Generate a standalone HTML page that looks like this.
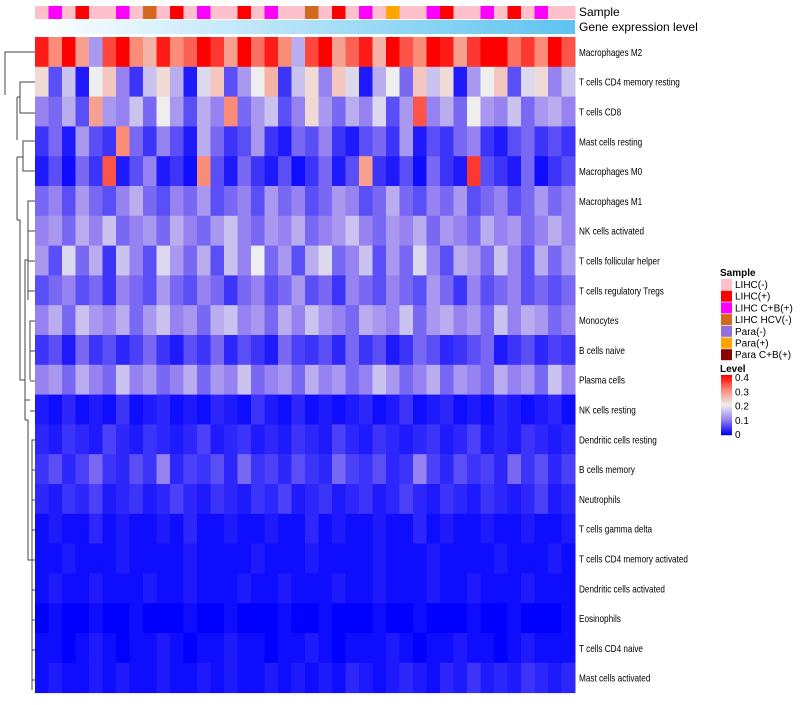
<!DOCTYPE html>
<html><head><meta charset="utf-8"><style>
body{margin:0;background:#fff;font-family:"Liberation Sans",sans-serif}
svg text{font-family:"Liberation Sans",sans-serif}
</style></head><body>
<svg id="c" width="800" height="700"></svg>
<script>
const rowNames=["Macrophages M2","T cells CD4 memory resting","T cells CD8","Mast cells resting","Macrophages M0","Macrophages M1","NK cells activated","T cells follicular helper","T cells regulatory  Tregs","Monocytes","B cells naive","Plasma cells","NK cells resting","Dendritic cells resting","B cells memory","Neutrophils","T cells gamma delta","T cells CD4 memory activated","Dendritic cells activated","Eosinophils","T cells CD4 naive","Mast cells activated"];
// values in hundredths (0..40)
const values=[
[38,30,40,28,12,35,40,30,26,38,30,33,40,36,28,40,32,38,30,14,35,40,28,33,38,26,40,34,30,40,38,28,36,40,40,32,36,30,40,34],
[22,6,16,2,20,24,10,4,16,22,14,2,18,24,6,12,20,26,4,16,22,10,24,18,2,14,20,8,24,16,22,2,12,20,24,6,18,22,10,16],
[10,8,14,6,28,12,10,16,8,20,12,6,14,10,30,8,12,16,6,10,22,12,8,14,10,18,6,12,34,10,14,8,20,12,10,16,8,12,14,10],
[4,8,2,12,6,4,30,8,4,10,6,2,14,8,4,6,12,4,2,8,6,10,4,2,6,8,4,12,2,6,4,8,10,4,2,6,8,4,6,4],
[2,6,1,8,4,34,2,6,10,2,4,1,30,6,2,8,4,2,6,1,4,8,2,6,28,4,2,6,1,8,4,2,36,6,4,2,8,1,4,6],
[8,10,6,12,8,6,10,14,8,6,10,8,12,6,8,10,6,12,8,10,6,8,12,10,6,8,14,8,6,10,8,12,6,8,10,6,8,12,8,10],
[10,12,8,14,10,16,8,10,12,8,14,10,8,12,16,10,8,12,10,14,8,10,12,16,10,8,12,10,14,8,12,10,8,14,10,12,8,10,14,10],
[12,6,18,8,14,4,16,10,6,18,12,8,14,6,16,10,20,8,12,6,14,18,8,10,16,6,12,8,18,10,6,14,12,8,16,10,6,14,8,12],
[6,8,10,6,8,4,10,8,6,12,8,6,10,8,4,8,10,6,8,12,6,8,4,10,8,6,10,8,6,12,8,4,10,6,8,10,6,8,6,8],
[10,14,8,16,12,10,14,8,12,16,10,12,8,14,16,10,12,8,14,10,16,12,10,8,14,12,10,16,8,12,14,10,12,8,16,10,14,12,8,10],
[4,6,2,8,4,6,3,5,8,4,2,6,4,8,3,6,4,2,8,5,4,6,3,8,4,6,2,4,8,6,3,4,6,8,2,4,6,3,5,4],
[10,12,8,14,10,8,16,10,12,8,10,14,8,12,10,16,8,10,12,8,14,10,12,8,10,16,12,8,10,14,8,12,10,8,14,10,12,8,16,10],
[2,1,3,1,2,1,4,1,2,3,1,2,1,3,2,1,4,2,1,3,1,2,1,2,3,1,2,4,1,2,3,1,2,1,3,2,1,2,3,1],
[3,2,4,3,2,5,3,2,4,3,2,3,5,2,3,4,2,3,2,4,3,2,5,3,2,4,3,2,3,4,2,3,5,2,3,2,4,3,2,3],
[4,6,3,5,8,4,3,6,4,10,3,5,4,6,3,8,4,5,3,6,4,3,8,5,4,6,3,4,10,5,3,6,4,5,3,8,4,6,3,5],
[3,2,4,3,5,2,3,4,2,3,5,3,2,4,3,2,4,3,5,2,3,4,2,3,4,2,3,5,3,2,4,3,2,4,3,2,3,5,2,3],
[1,2,1,1,3,1,2,1,1,2,1,3,1,1,2,1,1,2,1,1,3,1,2,1,1,2,1,1,3,1,2,1,1,2,1,1,2,1,1,2],
[1,1,2,1,1,1,2,1,1,1,1,2,1,1,1,1,2,1,1,1,2,1,1,1,1,2,1,1,1,2,1,1,1,1,2,1,1,1,2,1],
[1,2,1,1,2,1,1,1,2,1,1,2,1,1,1,2,1,1,2,1,1,1,2,1,1,2,1,1,1,2,1,1,2,1,1,1,2,1,1,1],
[0,1,0,0,1,0,0,1,0,0,0,1,0,0,1,0,0,0,1,0,0,1,0,0,0,1,0,0,1,0,0,0,1,0,0,1,0,0,0,1],
[1,1,0,1,2,1,0,1,1,2,1,0,1,1,2,1,1,0,1,1,2,1,0,1,1,1,2,1,0,1,1,2,1,1,0,1,2,1,1,1],
[1,2,1,1,2,1,2,1,1,2,1,1,2,1,2,1,1,2,1,2,1,2,1,3,2,1,2,3,2,1,3,2,4,2,3,2,4,3,2,3]
];
const sampleGroups=[0,2,0,1,0,0,2,0,3,0,1,0,2,0,0,1,0,2,0,0,3,0,1,0,2,0,5,0,0,2,1,0,0,2,0,1,0,2,0,0];
const sampleNames=["LIHC(-)","LIHC(+)","LIHC C+B(+)","LIHC HCV(-)","Para(-)","Para(+)","Para C+B(+)"];
const sampleColors=["#ffc0cb","#ff0000","#ff00ff","#d2691e","#9370db","#ffa500","#8b0000"];
const levelTicks=[0,0.1,0.2,0.3,0.4];

const NS="http://www.w3.org/2000/svg",svg=document.getElementById('c');
function mk(t,a,p){const e=document.createElementNS(NS,t);for(const k in a)e.setAttribute(k,a[k]);(p||svg).appendChild(e);return e;}
const X0=35,X1=575,Y0=37,RH=29.8;
const nCol=values[0].length,cw=(X1-X0)/nCol;
const xPos=i=>X0+i*cw, yPos=r=>Y0+r*RH;
function col(v){v=Math.max(0,Math.min(0.4,v));
 const stops=[[0,[0,0,255]],[0.1,[150,130,240]],[0.2,[238,238,238]],[0.3,[250,140,120]],[0.4,[255,0,0]]];
 for(let i=0;i<4;i++){const a=stops[i],b=stops[i+1];if(v<=b[0]){const t=(v-a[0])/(b[0]-a[0]);return 'rgb('+a[1].map((c,k)=>Math.round(c+(b[1][k]-c)*t)).join(',')+')';}}
 return 'rgb(255,0,0)';}
sampleGroups.forEach((g,i)=>{const e=mk('rect',{x:xPos(i),y:6,width:cw+0.5,height:13,fill:sampleColors[g]});

});
const gd=mk('defs',{});const lg=mk('linearGradient',{id:'gl'},gd);
mk('stop',{offset:'0','stop-color':'#ffffff'},lg);mk('stop',{offset:'1','stop-color':'#5ec3f0'},lg);
const gb=mk('rect',{x:X0,y:20,width:X1-X0,height:14,fill:'url(#gl)'});

let t=mk('text',{x:579,y:16,'font-size':12});t.textContent='Sample';
t=mk('text',{x:579,y:31,'font-size':12});t.textContent='Gene expression level';
values.forEach((row,r)=>{row.forEach((v,i)=>{const e=mk('rect',{x:xPos(i),y:yPos(r),width:cw+0.5,height:RH+0.5,fill:col(v/100)});

});
const l=mk('text',{x:0,y:0,'font-size':10,transform:'translate(579,'+(yPos(r)+RH/2+4)+') scale(0.82,1)'});l.textContent=rowNames[r];

});
const dp="M35 52H5V95M35 82H20V113H35M20 97H17M17 97V140M35 141H23V171H35M23 157H17M17 157V220M35 201H28V300M35 231H28M35 261H28M35 291H28M28 260H25V420M35 321H30V380M35 351H30M35 381H30M35 411H30M30 400H25M25 380H20V220H17M35 440H32V690M35 470H32M35 500H32M35 530H32M35 560H32M35 590H32M35 620H32M35 650H32M35 680H32M32 560H28V420H25";
const d=mk('path',{d:dp,stroke:'#444',fill:'none','stroke-width':1});
t=mk('text',{x:720,y:276,'font-size':10,'font-weight':'bold'});t.textContent='Sample';
sampleNames.forEach((n,i)=>{const y=279+i*11.7;mk('rect',{x:721,y:y,width:11,height:11,fill:sampleColors[i]});
const e=mk('text',{x:735,y:y+9,'font-size':10});e.textContent=n;

});
t=mk('text',{x:720,y:372,'font-size':10,'font-weight':'bold'});t.textContent='Level';
for(let k=0;k<60;k++){mk('rect',{x:721,y:375+k,width:11,height:1.2,fill:col(0.4-k*0.4/59)});}
levelTicks.forEach(v=>{const y=434-v/0.4*57;const e=mk('text',{x:735,y:y+4,'font-size':10});e.textContent=String(v);

});
</script>
</body></html>
